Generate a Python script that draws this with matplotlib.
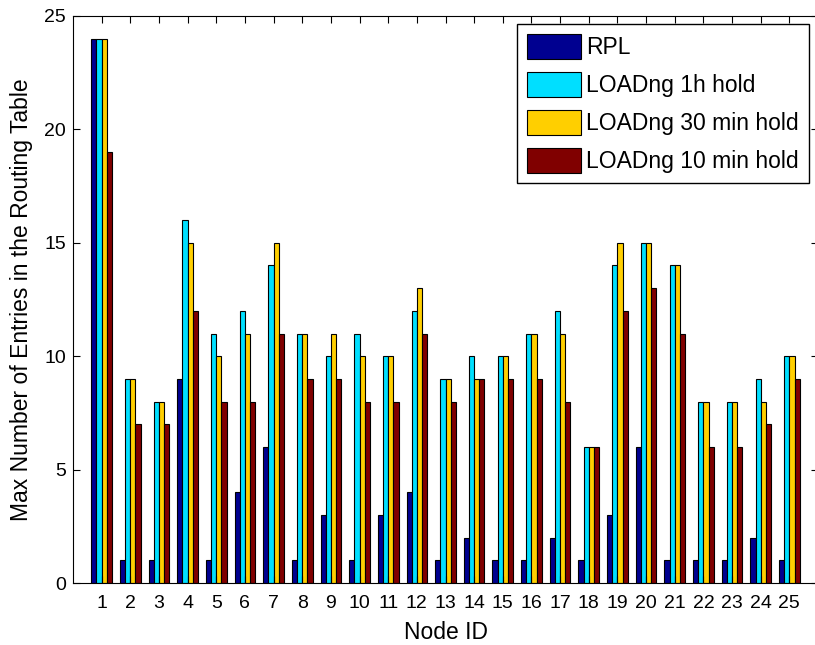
import matplotlib
matplotlib.use('Agg')
import matplotlib.pyplot as plt
import numpy as np

plt.rcParams['font.family'] = ['Liberation Sans', 'DejaVu Sans']

# max routing table entries per node
node_ids = list(range(1, 26))
rpl = [24, 1, 1, 9, 1, 4, 6, 1, 3, 1, 3, 4, 1, 2, 1, 1, 2, 1, 3, 6, 1, 1, 1, 2, 1]
loadng_1h = [24, 9, 8, 16, 11, 12, 14, 11, 10, 11, 10, 12, 9, 10, 10, 11, 12, 6, 14, 15, 14, 8, 8, 9, 10]
loadng_30 = [24, 9, 8, 15, 10, 11, 15, 11, 11, 10, 10, 13, 9, 9, 10, 11, 11, 6, 15, 15, 14, 8, 8, 8, 10]
loadng_10 = [19, 7, 7, 12, 8, 8, 11, 9, 9, 8, 8, 11, 8, 9, 9, 9, 8, 6, 12, 13, 11, 6, 6, 7, 9]

series = [rpl, loadng_1h, loadng_30, loadng_10]
labels = ['RPL', 'LOADng 1h hold', 'LOADng 30 min hold', 'LOADng 10 min hold']
colors = ['#000090', '#00DFFF', '#FFCF00', '#800000']

fig = plt.figure(figsize=(8.15, 6.45), dpi=100)
ax = fig.add_axes([73/815, 62/645, 745/815, 567/645])

x = np.array(node_ids)
w = 0.18
for i, (vals, lab, c) in enumerate(zip(series, labels, colors)):
    ax.bar(x + (i - 1.5)*w, vals, width=w, color=c, edgecolor='black',
           linewidth=0.8, label=lab)

ax.set_xlim(0, 26)
ax.set_ylim(0, 25)
ax.set_xticks(node_ids)
ax.set_yticks([0, 5, 10, 15, 20, 25])
ax.tick_params(direction='in', top=True, right=True, labelsize=14, length=5)
ax.tick_params(axis='x', pad=9)
ax.tick_params(axis='y', pad=5)
ax.set_xlabel('Node ID', fontsize=16.5, labelpad=6)
ax.set_ylabel('Max Number of Entries in the Routing Table', fontsize=16.5, labelpad=8)

leg = ax.legend(loc='upper left', fontsize=16.5, handlelength=2.35, handleheight=1.26,
                handletextpad=0.22, labelspacing=0.57, borderpad=0.45, borderaxespad=0,
                fancybox=False, framealpha=1, edgecolor='black')
leg.set_bbox_to_anchor((517/815, 1 - 24/645), transform=fig.transFigure)
leg.get_frame().set_linewidth(1)

fig.savefig('out.png', dpi=100)
